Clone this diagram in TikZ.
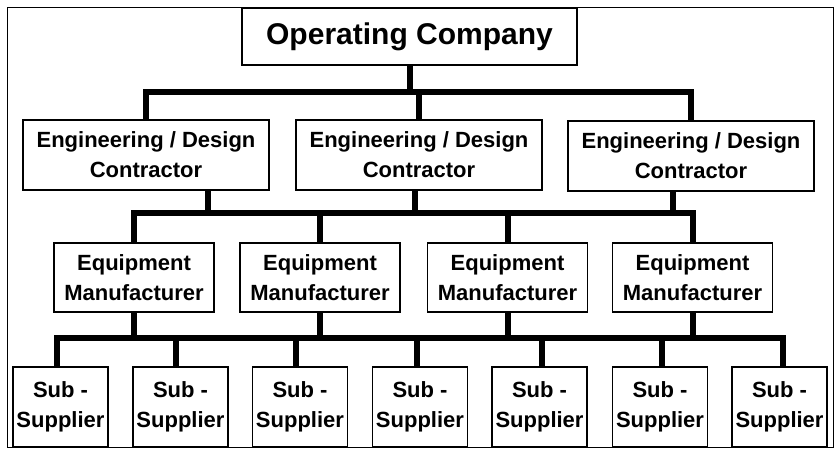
\documentclass[tikz,border=0pt]{standalone}
\usepackage{fontspec}
\setmainfont{Liberation Sans}
\usetikzlibrary{positioning,calc}
\tikzset{
  orgbox/.style ={rectangle, draw=black, line width=1.4pt, fill=white,
                  align=center, font=\fontsize{22}{30}\selectfont\bfseries,
                  inner sep=0pt},
  topbox/.style ={orgbox, font=\fontsize{30}{34}\selectfont\bfseries,
                  minimum width=335pt, minimum height=57pt},
  edcbox/.style ={orgbox, minimum width=246pt, minimum height=70pt},
  eqmbox/.style ={orgbox, minimum width=160pt, minimum height=69pt},
  subbox/.style ={orgbox, minimum width=95pt, minimum height=80pt},
  bus/.style    ={line width=6pt, draw=black, line join=miter},
  frame/.style  ={draw=black, line width=0.9pt}
}
\begin{document}
\begin{tikzpicture}[x=1pt, y=-1pt]
  \useasboundingbox (0,0) rectangle (835,449);
  \draw[frame] (7,7) rectangle (833,447);
  % nodes
  \node[topbox] (opco) at (409.5,36.5) {Operating Company};
  \node[edcbox] (edc1) at (146,155) {Engineering / Design\\Contractor};
  \node[edcbox] (edc2) at (419,155) {Engineering / Design\\Contractor};
  \node[edcbox] (edc3) at (691,156) {Engineering / Design\\Contractor};
  \node[eqmbox] (eqm1) at (134,277.5) {Equipment\\Manufacturer};
  \node[eqmbox] (eqm2) at (320,277.5) {Equipment\\Manufacturer};
  \node[eqmbox] (eqm3) at (507.5,277.5) {Equipment\\Manufacturer};
  \node[eqmbox] (eqm4) at (692.5,277.5) {Equipment\\Manufacturer};
  \node[subbox] (sub1) at (60.5,407) {Sub -\\Supplier};
  \node[subbox] (sub2) at (180.5,407) {Sub -\\Supplier};
  \node[subbox] (sub3) at (300,407) {Sub -\\Supplier};
  \node[subbox] (sub4) at (420,407) {Sub -\\Supplier};
  \node[subbox] (sub5) at (539.5,407) {Sub -\\Supplier};
  \node[subbox] (sub6) at (660,407) {Sub -\\Supplier};
  \node[subbox] (sub7) at (779.5,407) {Sub -\\Supplier};
  % bus levels
  \coordinate (busA) at (409,92);
  \coordinate (busB) at (409,213);
  \coordinate (busC) at (409,338);
  % operating company -> contractors
  \draw[bus] (edc1.north) |- (busA) -| (edc3.north);
  \draw[bus] (opco.south) -- (opco.south |- busA);
  \draw[bus] (edc2.north) -- (edc2.north |- busA);
  % contractors -> manufacturers
  \draw[bus] (eqm1.north) |- (busB) -| (eqm4.north);
  \draw[bus] ([xshift=62]edc1.south) -- ([xshift=62]edc1.south |- busB);
  \draw[bus] ([xshift=-4]edc2.south) -- ([xshift=-4]edc2.south |- busB);
  \draw[bus] ([xshift=-18]edc3.south) -- ([xshift=-18]edc3.south |- busB);
  \draw[bus] (eqm2.north) -- (eqm2.north |- busB);
  \draw[bus] (eqm3.north) -- (eqm3.north |- busB);
  % manufacturers -> sub-suppliers
  \draw[bus] ([xshift=-4]sub1.north) |- (busC) -| ([xshift=3]sub7.north);
  \draw[bus] (eqm1.south) -- (eqm1.south |- busC);
  \draw[bus] (eqm2.south) -- (eqm2.south |- busC);
  \draw[bus] (eqm3.south) -- (eqm3.south |- busC);
  \draw[bus] (eqm4.south) -- (eqm4.south |- busC);
  \draw[bus] ([xshift=-5]sub2.north) -- ([xshift=-5]sub2.north |- busC);
  \draw[bus] ([xshift=-4]sub3.north) -- ([xshift=-4]sub3.north |- busC);
  \draw[bus] ([xshift=-3]sub4.north) -- ([xshift=-3]sub4.north |- busC);
  \draw[bus] ([xshift=2]sub5.north) -- ([xshift=2]sub5.north |- busC);
  \draw[bus] ([xshift=2]sub6.north) -- ([xshift=2]sub6.north |- busC);
\end{tikzpicture}
\end{document}
